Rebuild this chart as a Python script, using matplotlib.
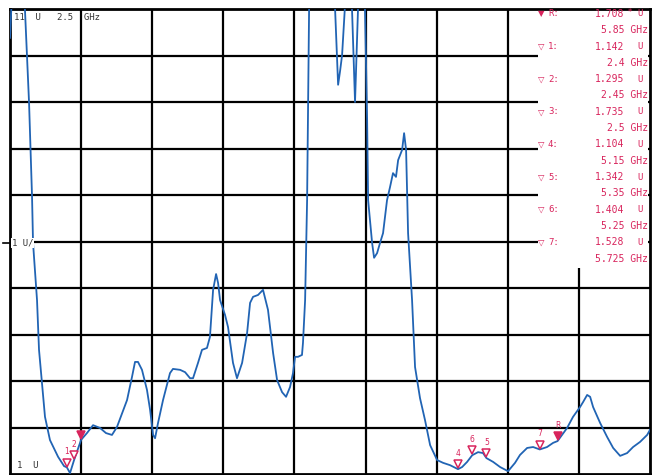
import numpy as np
import matplotlib
matplotlib.use("Agg")
import matplotlib.pyplot as plt
from matplotlib.patches import Rectangle
from matplotlib.transforms import offset_copy

# trace: frequency (GHz) vs VSWR (U)
freq = [2.000, 2.021, 2.070, 2.105, 2.120, 2.134, 2.155, 2.162, 2.190, 2.204,
        2.225, 2.246, 2.281, 2.338, 2.380, 2.400, 2.422, 2.450, 2.500, 2.541,
        2.584, 2.633, 2.675, 2.717, 2.752, 2.823, 2.858, 2.879, 2.900, 2.928,
        2.963, 2.985, 3.006, 3.020, 3.041, 3.076, 3.125, 3.146, 3.196, 3.231,
        3.266, 3.287, 3.322, 3.350, 3.385, 3.406, 3.428, 3.449, 3.463, 3.477,
        3.512, 3.533, 3.568, 3.596, 3.632, 3.667, 3.688, 3.709, 3.744, 3.779,
        3.814, 3.850, 3.878, 3.913, 3.941, 3.969, 3.990, 4.004, 4.025, 4.053,
        4.060, 4.075, 4.089, 4.096, 4.103, 4.110, 4.180, 4.270, 4.286, 4.307,
        4.321, 4.335, 4.356, 4.377, 4.405, 4.426, 4.447, 4.468, 4.496, 4.511,
        4.518, 4.546, 4.560, 4.581, 4.602, 4.623, 4.651, 4.672, 4.693, 4.714,
        4.729, 4.757, 4.771, 4.785, 4.799, 4.827, 4.848, 4.883, 4.918, 4.954,
        5.003, 5.045, 5.094, 5.150, 5.179, 5.214, 5.250, 5.291, 5.326, 5.350,
        5.397, 5.446, 5.502, 5.551, 5.586, 5.636, 5.678, 5.725, 5.776, 5.819,
        5.850, 5.917, 5.959, 6.008, 6.030, 6.058, 6.079, 6.100, 6.149, 6.198,
        6.241, 6.290, 6.339, 6.381, 6.430, 6.480, 6.500]
vswr = [10.38, 11.80, 12.00, 11.00, 9.97, 8.98, 6.96, 5.97, 4.74, 3.67,
        2.96, 2.23, 1.73, 1.37, 1.17, 1.142, 1.02, 1.295, 1.735, 1.88,
        2.05, 1.99, 1.88, 1.84, 2.01, 2.59, 3.09, 3.41, 3.41, 3.24,
        2.81, 2.38, 1.84, 1.77, 2.10, 2.59, 3.17, 3.26, 3.24, 3.19,
        3.06, 3.06, 3.39, 3.67, 3.71, 3.95, 4.96, 5.30, 5.11, 4.74,
        4.42, 4.16, 3.39, 3.06, 3.39, 4.03, 4.68, 4.81, 4.85, 4.96,
        4.53, 3.60, 3.02, 2.76, 2.66, 2.87, 3.17, 3.52, 3.52, 3.56,
        3.82, 4.74, 6.89, 9.04, 11.00, 12.00, 12.50, 12.00, 10.98, 9.37,
        9.67, 10.01, 11.10, 11.60, 10.98, 9.00, 11.00, 11.80, 11.00, 8.61,
        6.89, 5.97, 5.65, 5.75, 5.97, 6.18, 6.89, 7.17, 7.47, 7.39,
        7.75, 7.97, 8.33, 7.97, 6.18, 4.74, 3.30, 2.63, 2.16, 1.62,
        1.30, 1.24, 1.19, 1.104, 1.15, 1.26, 1.404, 1.47, 1.45, 1.342,
        1.26, 1.15, 1.06, 1.24, 1.41, 1.56, 1.58, 1.528, 1.58, 1.67,
        1.708, 1.99, 2.23, 2.44, 2.55, 2.70, 2.66, 2.44, 2.10, 1.80,
        1.56, 1.39, 1.45, 1.58, 1.69, 1.84, 1.95]

# markers
mk_names = ["R", "1", "2", "3", "4", "5", "6", "7"]
mk_freq = [5.85, 2.4, 2.45, 2.5, 5.15, 5.35, 5.25, 5.725]
mk_vswr = [1.708, 1.142, 1.295, 1.735, 1.104, 1.342, 1.404, 1.528]
mk_filled = [True, False, False, True, False, False, False, False]
mk_shown = [True, True, True, False, True, True, True, True]

f_lo, f_hi, f_step = 2.0, 6.5, 0.5
v_lo, v_hi = 1, 11

blue = "#2164b4"
red = "#d8245c"
W, H = 660, 475


def fx(x):
    return x / W


def fy(y):
    return 1 - y / H


fig = plt.figure(figsize=(6.6, 4.75), dpi=100)
ax = fig.add_axes([10 / W, 1 / H, 640 / W, 465 / H])
ax.set_xlim(f_lo, f_hi)
ax.set_ylim(v_lo, v_hi)
ax.set_xticks([])
ax.set_yticks([])
for s in ax.spines.values():
    s.set_linewidth(2)
    s.set_color("k")

##grid
for f in np.arange(f_lo + f_step, f_hi, f_step):
    ax.axvline(f, color="k", lw=1.6, zorder=1)
for v in range(v_lo + 1, v_hi):
    ax.axhline(v, color="k", lw=1.6, zorder=1)

# marker readout area blanks the grid
ax.add_patch(Rectangle((0.825, 0.443), 0.172, 0.557, transform=ax.transAxes,
                       facecolor="white", edgecolor="none", zorder=1.5))

ax.plot(freq, vswr, color=blue, lw=1.3, zorder=3)

# triangles sit on the trace with the tip down
tri = offset_copy(ax.transData, fig=fig, x=0, y=3.5, units="points")
lab = offset_copy(ax.transData, fig=fig, x=0, y=8, units="points")
for n, f, v, filled, shown in zip(mk_names, mk_freq, mk_vswr, mk_filled, mk_shown):
    ax.plot(f, v, marker="v", ms=6, mec=red, mew=1.1,
            mfc=red if filled else "white", transform=tri, zorder=4)
    if shown:
        ax.text(f, v, n, transform=lab, color=red, fontsize=5.5,
                ha="center", va="bottom", zorder=4)

# header / scale labels
mono = "DejaVu Sans Mono"
fig.text(fx(14), fy(17), "11  U   2.5  GHz", fontsize=6.5, family=mono,
         color="#333333", va="center")
fig.text(fx(12), fy(243), "1 U/", fontsize=6.5, family=mono, color="#333333",
         va="center", bbox=dict(facecolor="white", edgecolor="none", pad=0.5),
         zorder=5)
fig.text(fx(17), fy(466), "1  U", fontsize=6.5, family=mono, color="#333333",
         va="center")
fig.add_artist(plt.Line2D([fx(3), fx(10)], [fy(243), fy(243)], color="k", lw=1.2))

# marker list, only the reference marker is filled
row_y = 14
for i, (n, f, v) in enumerate(zip(mk_names, mk_freq, mk_vswr)):
    sym = "\u25bc" if i == 0 else "\u25bd"
    fig.text(fx(538), fy(row_y), sym, fontsize=6, color=red, va="center")
    fig.text(fx(548), fy(row_y), n + ":", fontsize=6.5, family=mono, color=red,
             va="center")
    fig.text(fx(624), fy(row_y), f"{v:.3f}", fontsize=7, family=mono, color=red,
             va="center", ha="right")
    fig.text(fx(643), fy(row_y), "U", fontsize=6.5, family=mono, color=red,
             va="center", ha="right")
    fig.text(fx(648), fy(row_y + 16.3), f"{f:g} GHz", fontsize=7, family=mono,
             color=red, va="center", ha="right")
    row_y += 32.6
fig.text(fx(630), fy(12), "*", fontsize=6, color=red, va="center", ha="center")

fig.savefig("out.png", dpi=100)
